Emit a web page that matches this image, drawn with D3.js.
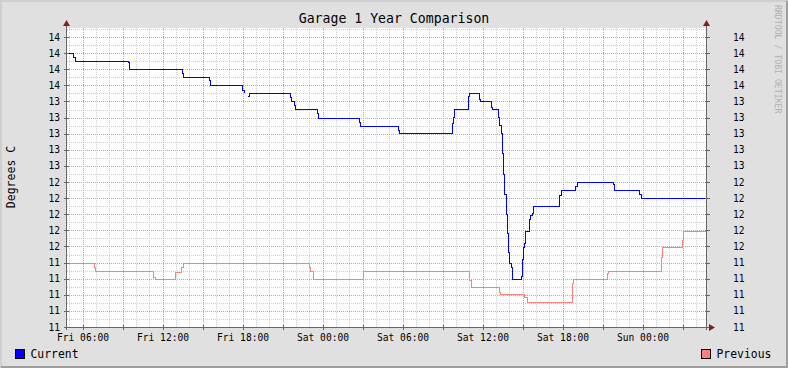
<!DOCTYPE html>
<html>
<head>
<meta charset="utf-8">
<script src="https://cdn.jsdelivr.net/npm/d3@7"></script>
<style>
  body { margin: 0; background: #e0e0e0; }
  svg { display: block; }
  text { font-family: "DejaVu Sans Mono", monospace; }
</style>
</head>
<body>
<svg id="chart" width="788" height="368"></svg>
<script>
// hours counted from Fri 00:00, null = gap in the data
const currentHours = [4.8, 5.36, 5.46, 9.44, 9.51, 13.49, 13.56, 15.51, 15.59, 18.02, 18.14, 18.23, 18.39, 18.49,
  21.59, 21.66, 21.89, 21.96, 23.61, 23.69, 26.76, 26.84, 29.69, 29.76, 33.74, 33.81, 33.89, 34.94, 35.01,
  35.76, 35.84, 36.66, 36.74, 37.19, 37.26, 37.41, 37.49, 37.56, 37.64, 37.79, 37.86, 37.94, 38.01, 38.16,
  38.24, 38.91, 38.99, 39.06, 39.14, 39.21, 39.51, 39.59, 39.74, 39.81, 41.76, 41.91, 42.96, 43.11, 45.81,
  45.89, 47.81, 47.89, 52.8];
const currentValues = [14.0, 13.95, 13.9, 13.89, 13.8, 13.75, 13.7, 13.66, 13.6, 13.54, 13.5, null, 13.46, 13.5,
  13.45, 13.4, 13.35, 13.3, 13.25, 13.19, 13.14, 13.09, 13.04, 13.0, 13.13, 13.2, 13.3, 13.46, 13.5,
  13.43, 13.4, 13.33, 13.3, 13.2, 13.1, 13.0, 12.76, 12.49, 12.24, 12.0, 11.76, 11.53, 11.39, 11.34,
  11.19, 11.23, 11.44, 11.59, 11.64, 11.78, 11.94, 11.99, 12.01, 12.09, 12.23, 12.3, 12.34, 12.4, 12.37,
  12.3, 12.25, 12.2, 12.2];

const previousHours = [4.8, 6.89, 6.99, 11.36, 11.46, 12.96, 13.39, 13.46, 13.54, 23.06, 23.1, 23.33, 27.08,
  35.01, 35.14, 37.26, 37.37, 39.14, 39.36, 42.73, 42.81, 45.36, 45.44, 49.41, 49.52, 51.02, 51.11, 52.8];
const previousValues = [11.39, 11.34, 11.29, 11.22, 11.19, 11.28, 11.31, 11.34, 11.39, 11.34, 11.29, 11.19, 11.29,
  11.18, 11.09, 11.03, 11.0, 10.97, 10.9, 11.14, 11.19, 11.27, 11.29, 11.46, 11.59, 11.68, 11.79, 11.79];

const yTickValues = [10.6, 10.8, 11.0, 11.2, 11.4, 11.6, 11.8, 12.0, 12.2, 12.4, 12.6, 12.8, 13.0, 13.2, 13.4,
  13.6, 13.8, 14.0, 14.2];

const svg = d3.select("#chart");
const W = 788, H = 368;
const plotLeft = 66.5, plotRight = 706.5, plotTop = 28, plotBottom = 327;

const base = Date.UTC(2024, 2, 1); // a Friday
const toDate = (h) => new Date(base + h * 3600e3);

const x = d3.scaleUtc()
  .domain([toDate(4.8), toDate(52.8)])
  .range([plotLeft, plotRight]);
const y = d3.scaleLinear()
  .domain([10.6, 14.3])
  .range([plotBottom, 29]);

// background + frame
svg.append("rect").attr("width", W).attr("height", H).attr("fill", "#e0e0e0");
svg.append("path").attr("d", `M1,${H} V1 H${W}`).attr("stroke", "#cfcfcf").attr("stroke-width", 2).attr("fill", "none");
svg.append("path").attr("d", `M${W - 1},1 V${H - 1} H1`).attr("stroke", "#9e9e9e").attr("stroke-width", 2).attr("fill", "none");

svg.append("rect")
  .attr("x", 67).attr("y", plotTop)
  .attr("width", 639).attr("height", plotBottom - plotTop)
  .attr("fill", "#fff");

const grid = svg.append("g").attr("shape-rendering", "crispEdges");
const minorColor = "#cdcdcd", majorColor = "#f09090", dash = "1,1";
const px = (v) => Math.round(v) + 0.5;

// minor grid
const minorY = d3.range(107, 144).map((d) => d / 10).filter((v) => !yTickValues.some((t) => Math.abs(t - v) < 1e-6));
grid.selectAll(".ym").data(minorY).join("line")
  .attr("x1", 67).attr("x2", 706)
  .attr("y1", (d) => px(y(d))).attr("y2", (d) => px(y(d)))
  .attr("stroke", minorColor).attr("stroke-dasharray", dash);

const hourTicks = x.ticks(d3.utcHour.every(1));
grid.selectAll(".xm").data(hourTicks.filter((d) => d.getUTCHours() % 3 !== 0)).join("line")
  .attr("x1", (d) => px(x(d))).attr("x2", (d) => px(x(d)))
  .attr("y1", plotTop).attr("y2", plotBottom)
  .attr("stroke", minorColor).attr("stroke-dasharray", dash);

// major grid
grid.selectAll(".yM").data(yTickValues).join("line")
  .attr("x1", 67).attr("x2", 706)
  .attr("y1", (d) => px(y(d))).attr("y2", (d) => px(y(d)))
  .attr("stroke", majorColor).attr("stroke-dasharray", dash);

const majorX = x.ticks(d3.utcHour.every(3));
grid.selectAll(".xM").data(majorX).join("line")
  .attr("x1", (d) => px(x(d))).attr("x2", (d) => px(x(d)))
  .attr("y1", plotTop).attr("y2", plotBottom)
  .attr("stroke", majorColor).attr("stroke-dasharray", dash);

// series
const line = d3.line()
  .defined((d) => d[1] != null)
  .x((d) => x(toDate(d[0])))
  .y((d) => y(d[1]))
  .curve(d3.curveStepAfter);

svg.append("path")
  .datum(previousHours.map((h, i) => [h, previousValues[i]]))
  .attr("d", line)
  .attr("fill", "none").attr("stroke", "#ff7f7f").attr("stroke-width", 1)
  .attr("shape-rendering", "crispEdges");

svg.append("path")
  .datum(currentHours.map((h, i) => [h, currentValues[i]]))
  .attr("d", line)
  .attr("fill", "none").attr("stroke", "#0000ff").attr("stroke-width", 1)
  .attr("shape-rendering", "crispEdges");

// axes
const axisColor = "#666";
const ax = svg.append("g").attr("shape-rendering", "crispEdges").attr("stroke", axisColor);
ax.append("line").attr("x1", plotLeft).attr("x2", plotLeft).attr("y1", 24).attr("y2", plotBottom + 3);
ax.append("line").attr("x1", plotRight).attr("x2", plotRight).attr("y1", 24).attr("y2", plotBottom + 3);
ax.append("line").attr("x1", plotLeft - 3).attr("x2", 711).attr("y1", plotBottom + 0.5).attr("y2", plotBottom + 0.5);

ax.selectAll(".tl").data(yTickValues).join("line")
  .attr("x1", plotLeft - 3).attr("x2", plotLeft + 2)
  .attr("y1", (d) => px(y(d))).attr("y2", (d) => px(y(d)));
ax.selectAll(".tr").data(yTickValues).join("line")
  .attr("x1", plotRight - 2).attr("x2", plotRight + 3)
  .attr("y1", (d) => px(y(d))).attr("y2", (d) => px(y(d)));
ax.selectAll(".tx").data(majorX).join("line")
  .attr("x1", (d) => px(x(d))).attr("x2", (d) => px(x(d)))
  .attr("y1", plotBottom - 2).attr("y2", plotBottom + 3);

const arrow = "#7f1f1f";
svg.append("path").attr("d", `M${plotLeft - 3.5},26 L${plotLeft},20 L${plotLeft + 3.5},26 Z`).attr("fill", arrow);
svg.append("path").attr("d", `M${plotRight - 3.5},26 L${plotRight},20 L${plotRight + 3.5},26 Z`).attr("fill", arrow);
svg.append("path").attr("d", `M709,${plotBottom + 0.5 - 3.5} L715,${plotBottom + 0.5} L709,${plotBottom + 0.5 + 3.5} Z`).attr("fill", arrow);

// tick labels
const fmtY = d3.format(".0f");
svg.append("g").selectAll("text").data(yTickValues).join("text")
  .attr("x", 60).attr("y", (d) => y(d) + 3.5)
  .attr("text-anchor", "end").attr("font-size", 9.6).text(fmtY);
svg.append("g").selectAll("text").data(yTickValues).join("text")
  .attr("x", 733).attr("y", (d) => y(d) + 3.5)
  .attr("text-anchor", "start").attr("font-size", 9.6).text(fmtY);

const labelTicks = x.ticks(d3.utcHour.every(6));
svg.append("g").selectAll("text").data(labelTicks).join("text")
  .attr("x", (d) => x(d) + 0.5).attr("y", 341)
  .attr("text-anchor", "middle").attr("font-size", 9.6)
  .text(d3.utcFormat("%a %H:%M"));

// title, labels
svg.append("text").attr("x", 394).attr("y", 23).attr("text-anchor", "middle")
  .attr("font-size", 13.2).text("Garage 1 Year Comparison");
svg.append("text").attr("transform", "translate(15,177) rotate(-90)").attr("text-anchor", "middle")
  .attr("font-size", 11.5).text("Degrees C");
svg.append("text").attr("transform", "translate(775,5) rotate(90)").attr("text-anchor", "start")
  .attr("font-size", 8.2).attr("fill", "#b0b0b0").text("RRDTOOL / TOBI OETIKER");

// legend
const legend = [
  { name: "Current", color: "#0000ff", x: 15 },
  { name: "Previous", color: "#ff7f7f", x: 701 }
];
const lg = svg.append("g").selectAll("g").data(legend).join("g");
lg.append("rect").attr("x", (d) => d.x + 0.5).attr("y", 349.5).attr("width", 9).attr("height", 9)
  .attr("fill", (d) => d.color).attr("stroke", "#000").attr("shape-rendering", "crispEdges");
lg.append("text").attr("x", (d) => d.x + 15.5).attr("y", 358).attr("font-size", 11.4).text((d) => d.name);
</script>
</body>
</html>
